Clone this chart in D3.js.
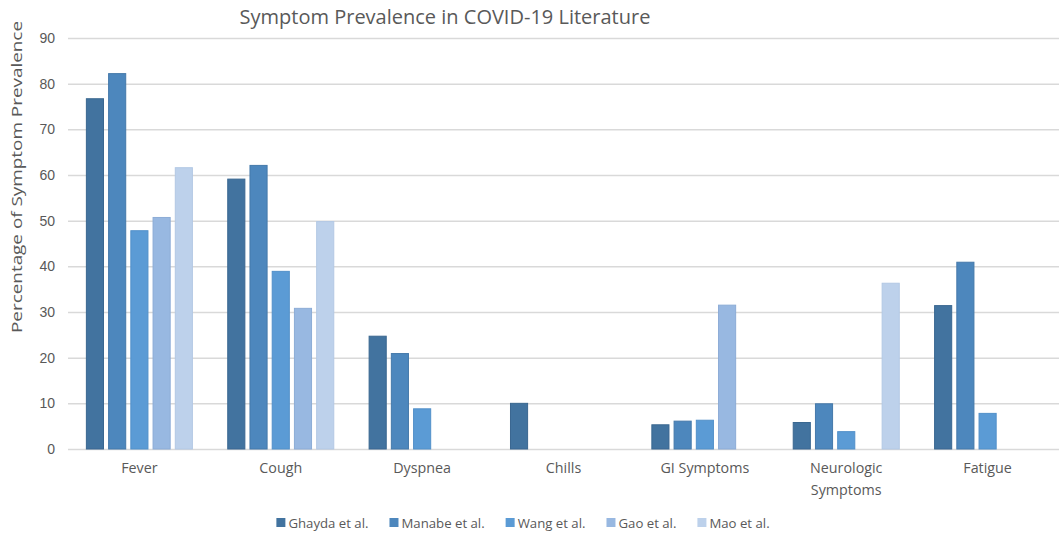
<!DOCTYPE html>
<html>
<head>
<meta charset="utf-8">
<script src="https://cdn.jsdelivr.net/npm/d3@7"></script>
<style>
  body { margin: 0; background: #fff; }
  svg { display: block; font-family: "Open Sans", "Noto Sans", sans-serif; }
</style>
</head>
<body>
<div id="chart"></div>
<script>
// categories and series
const categories = ["Fever", "Cough", "Dyspnea", "Chills", "GI Symptoms", "Neurologic Symptoms", "Fatigue"];
const categoryLines = [["Fever"], ["Cough"], ["Dyspnea"], ["Chills"], ["GI Symptoms"], ["Neurologic", "Symptoms"], ["Fatigue"]];
const seriesNames = ["Ghayda et al.", "Manabe et al.", "Wang et al.", "Gao et al.", "Mao et al."];
const ghayda = [76.7, 59.1, 24.7, 10, 5.3, 5.8, 31.4];
const manabe = [82.2, 62.1, 20.9, null, 6.1, 9.9, 40.9];
const wang   = [47.8, 38.9, 8.8, null, 6.3, 3.8, 7.8];
const gao    = [50.7, 30.8, null, null, 31.5, null, null];
const mao    = [61.6, 49.8, null, null, null, 36.3, null];
const seriesValues = [ghayda, manabe, wang, gao, mao];
const yTicks = [0, 10, 20, 30, 40, 50, 60, 70, 80, 90];
const fills   = ["#42739f", "#4d87bd", "#5b9bd5", "#98b8e1", "#bdd1eb"];
const strokes = ["#3a6790", "#4579aa", "#5290c9", "#8cacd6", "#b3c8e4"];

const width = 1059, height = 537;
const margin = { top: 38, right: 0, bottom: 88, left: 68 };

const svg = d3.select("#chart").append("svg")
  .attr("width", width)
  .attr("height", height);

const x0 = d3.scaleBand()
  .domain(categories)
  .range([margin.left, width - margin.right])
  .paddingInner(0.25)
  .paddingOuter(0.13);

const x1 = d3.scaleBand()
  .domain(seriesNames)
  .range([0, x0.bandwidth()])
  .paddingInner(0.23);

const y = d3.scaleLinear()
  .domain([0, 90])
  .range([height - margin.bottom, margin.top]);

// gridlines + y tick labels
const yAxis = d3.axisLeft(y)
  .tickValues(yTicks)
  .tickSize(-(width - margin.left - margin.right))
  .tickPadding(13);

const yg = svg.append("g")
  .attr("transform", `translate(${margin.left},0)`)
  .call(yAxis);
yg.select(".domain").remove();
yg.selectAll(".tick line").attr("stroke", "#d9d9d9").attr("stroke-width", 1.5);
yg.selectAll(".tick text")
  .attr("fill", "#595959")
  .style("font-size", "14px");

// bars
const groups = svg.append("g").selectAll("g")
  .data(categories)
  .join("g")
  .attr("transform", d => `translate(${x0(d)},0)`);

groups.selectAll("rect")
  .data((c, ci) => seriesNames.map((s, si) => ({ s, si, v: seriesValues[si][ci] })).filter(d => d.v != null))
  .join("rect")
  .attr("x", d => x1(d.s))
  .attr("width", x1.bandwidth())
  .attr("y", d => y(d.v))
  .attr("height", d => y(0) - y(d.v))
  .attr("fill", d => fills[d.si])
  .attr("stroke", d => strokes[d.si])
  .attr("stroke-width", 1);

// category labels
const xl = svg.append("g").selectAll("text")
  .data(categories)
  .join("text")
  .attr("x", d => x0(d) + x0.bandwidth() / 2)
  .attr("y", y(0) + 24)
  .attr("text-anchor", "middle")
  .attr("fill", "#595959")
  .style("font-size", "14.3px");
xl.selectAll("tspan")
  .data((d, i) => categoryLines[i])
  .join("tspan")
  .attr("x", function () { return this.parentNode.getAttribute("x"); })
  .attr("dy", (d, i) => i === 0 ? 0 : 22)
  .text(d => d);

// title
svg.append("text")
  .attr("x", 445)
  .attr("y", 24)
  .attr("text-anchor", "middle")
  .attr("fill", "#595959")
  .style("font-size", "20px")
  .text("Symptom Prevalence in COVID-19 Literature");

// y axis title
svg.append("text")
  .attr("transform", `translate(22,${177}) rotate(-90)`)
  .attr("text-anchor", "middle")
  .attr("fill", "#595959")
  .style("font-size", "15px")
  .attr("textLength", 312)
  .attr("lengthAdjust", "spacingAndGlyphs")
  .text("Percentage of Symptom Prevalence");

// legend
const legend = svg.append("g");
let lx = 0;
seriesNames.forEach((name, i) => {
  const item = legend.append("g").attr("transform", `translate(${lx},0)`);
  item.append("rect")
    .attr("x", 0).attr("y", -5)
    .attr("width", 9).attr("height", 9)
    .attr("fill", fills[i]);
  const t = item.append("text")
    .attr("x", 12).attr("y", 4.5)
    .attr("fill", "#595959")
    .style("font-size", "13.2px")
    .text(name);
  lx += 12 + t.node().getComputedTextLength() + 21;
});
const legendWidth = lx - 21;
legend.attr("transform", `translate(${523 - legendWidth / 2},523)`);
</script>
</body>
</html>
